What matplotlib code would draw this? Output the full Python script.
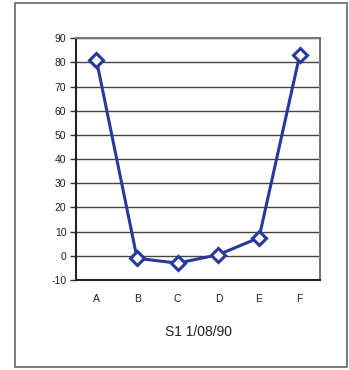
import matplotlib
matplotlib.use("Agg")
import matplotlib.pyplot as plt
from matplotlib.patches import Rectangle

categories = ["A", "B", "C", "D", "E", "F"]
values = [81, -1, -3, 0.5, 7.5, 83]
yticks = [-10, 0, 10, 20, 30, 40, 50, 60, 70, 80, 90]

plt.rcParams['font.family'] = ['Liberation Sans', 'DejaVu Sans']
plt.rcParams['axes.unicode_minus'] = False

fig = plt.figure(figsize=(3.49, 3.70), dpi=100)
ax = fig.add_axes([0.218, 0.243, 0.699, 0.654])

# outer frame
fig.patches.append(Rectangle((15 / 349, 3 / 370), 332 / 349, 364 / 370,
                             transform=fig.transFigure, fill=False,
                             edgecolor='#666666', linewidth=1.2))

x = list(range(len(categories)))
ax.plot(x, values, color='#27399a', linewidth=2.2, marker='D', markersize=7,
        markerfacecolor='white', markeredgecolor='#27399a', markeredgewidth=2.2,
        zorder=3)

ax.set_xlim(-0.5, len(categories) - 0.5)
ax.set_ylim(-10, 90)
ax.set_yticks(yticks)
ax.set_xticks(x)
ax.set_xticklabels(categories)
ax.tick_params(axis='y', labelsize=7.5, length=4, width=1, color='#333333',
               pad=3, labelcolor='#222222')
ax.tick_params(axis='x', labelsize=7.5, length=0, pad=10, labelcolor='#222222')
ax.yaxis.grid(True, color='#444444', linewidth=1)
ax.set_axisbelow(True)

for side in ['left', 'bottom']:
    ax.spines[side].set_color('#222222')
    ax.spines[side].set_linewidth(1.5)
for side in ['top', 'right']:
    ax.spines[side].set_color('#777777')
    ax.spines[side].set_linewidth(1.5)

ax.set_xlabel("S1 1/08/90", fontsize=10, labelpad=15, color='#222222')

plt.savefig("out.png", dpi=100)
